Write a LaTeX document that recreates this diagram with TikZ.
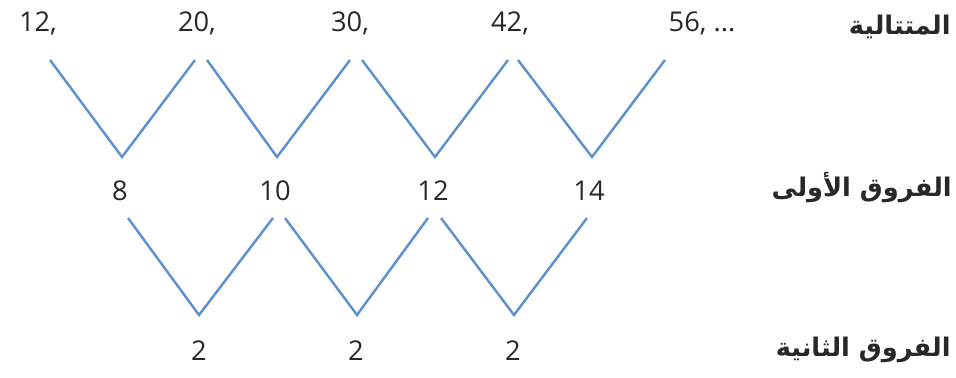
\documentclass[tikz,border=0pt]{standalone}
\usepackage{fontspec}
\setmainfont{Open Sans}
\newfontfamily\arabicfont[Script=Arabic]{DejaVu Sans}
\TeXXeTstate=1
\definecolor{vblue}{RGB}{95,145,205}
\definecolor{numgray}{RGB}{40,40,40}

\begin{document}
\begin{tikzpicture}[x=0.02cm, y=-0.02cm,
    num/.style={anchor=base, inner sep=0pt, text=numgray, font=\fontsize{15.5}{18}\selectfont},
    lbl/.style={anchor=base east, inner sep=0pt, text=numgray, font=\arabicfont\bfseries\fontsize{14.6}{18}\selectfont},
    vline/.style={draw=vblue, line width=1.4pt}]
    \useasboundingbox (0,0) rectangle (956,378);

    % Sequence
    \foreach \n/\x [count=\i] in {12/38, 20/197, 30/350, 42/510}{
        \node[num] (s\i) at (\x,32) {\n,};
    }
    \node[num] (s5) at (702,32) {56, ...};

    % First differences
    \foreach \n/\x [count=\i] in {8/120, 10/275, 12/433, 14/589}{
        \node[num] (d\i) at (\x,200) {\n};
    }

    % Second differences
    \foreach \x [count=\i] in {199, 356, 513}{
        \node[num] (e\i) at (\x,360) {2};
    }

    % Row labels
    \node[lbl] (l1) at (951,35) {\beginR المتتالية\endR};
    \node[lbl] (l2) at (952,196) {\beginR الفروق الأولى\endR};
    \node[lbl] (l3) at (951,356) {\beginR الفروق الثانية\endR};

    % V shapes, upper row
    \foreach \a/\b/\c [count=\i] in {50/122/195, 207/277/350, 362/435/508, 518/592/665}{
        \coordinate (p\i) at (\a,60);
        \coordinate (q\i) at (\b,157);
        \coordinate (r\i) at (\c,60);
        \draw[vline] (p\i) -- (q\i) -- (r\i);
    }

    % V shapes, lower row
    \foreach \a/\b/\c [count=\i] in {128/199/273, 285/357/428, 441/514/587}{
        \coordinate (u\i) at (\a,218);
        \coordinate (v\i) at (\b,315);
        \coordinate (w\i) at (\c,218);
        \draw[vline] (u\i) -- (v\i) -- (w\i);
    }
\end{tikzpicture}
\end{document}
